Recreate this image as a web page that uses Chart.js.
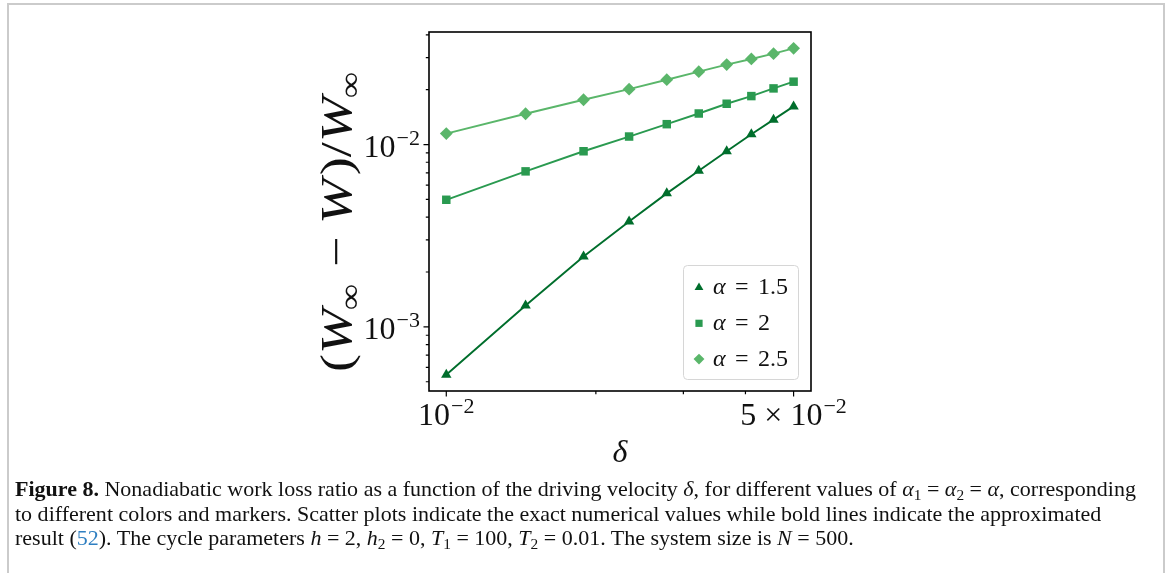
<!DOCTYPE html>
<html>
<head>
<meta charset="utf-8">
<script src="https://cdn.jsdelivr.net/npm/chart.js@4.4.1/dist/chart.umd.min.js"></script>
<style>
  html, body { margin: 0; padding: 0; background: #fff; }
  body { width: 1167px; height: 573px; position: relative; overflow: hidden; }
  #frame {
    position: absolute; left: 7px; top: 3px; width: 1154px; height: 600px;
    border: 2px solid #cbcbcb; border-bottom: none;
  }
  #plot { position: absolute; left: 0; top: 0; }
  .cap {
    position: absolute; left: 15px; white-space: nowrap;
    font: 21px "Liberation Serif", serif; line-height: 24px; color: #111;
    transform-origin: 0 50%;
  }
  .cap sub { font-size: 0.7em; vertical-align: -0.25em; line-height: 0; }
  .cap .ref { color: #2f7fc1; }
</style>
</head>
<body>
<div id="frame"></div>
<canvas id="plot" width="1167" height="573"></canvas>
<div class="cap" id="cap1" style="top:477px"><b>Figure 8.</b> Nonadiabatic work loss ratio as a function of the driving velocity <i>δ</i>, for different values of <i>α</i><sub>1</sub> = <i>α</i><sub>2</sub> = <i>α</i>, corresponding</div>
<div class="cap" id="cap2" style="top:502px">to different colors and markers. Scatter plots indicate the exact numerical values while bold lines indicate the approximated</div>
<div class="cap" id="cap3" style="top:526px">result (<span class="ref">52</span>). The cycle parameters <i>h</i> = 2, <i>h</i><sub>2</sub> = 0, <i>T</i><sub>1</sub> = 100, <i>T</i><sub>2</sub> = 0.01. The system size is <i>N</i> = 500.</div>
<script>
// driving velocity δ and loss ratio (W∞ − W)/W∞ for each α
const deltaValues = [0.01, 0.01444, 0.01889, 0.02333, 0.02778, 0.03222, 0.03667, 0.04111, 0.04556, 0.05];
const lossAlpha15 = [0.000547, 0.00131, 0.00243, 0.00378, 0.00540, 0.00719, 0.00919, 0.0114, 0.0137, 0.0162];
const lossAlpha2 = [0.00498, 0.00713, 0.00919, 0.01107, 0.01294, 0.01481, 0.01675, 0.01845, 0.02033, 0.02213];
const lossAlpha25 = [0.01149, 0.01476, 0.01762, 0.02014, 0.02269, 0.02512, 0.02746, 0.02949, 0.03154, 0.03373];
const seriesLabels = ["1.5", "2", "2.5"];

// log-axis ticks: [value, mantissa text, exponent text] for labelled ones
const xMajorTicks = [[0.01, "10", "−2"], [0.05, "5 × 10", "−2"]];
const xMinorTicks = [0.02, 0.03, 0.04];
const yMajorTicks = [[0.001, "10", "−3"], [0.01, "10", "−2"]];
const yMinorTicks = [0.0005, 0.0006, 0.0007, 0.0008, 0.0009,
  0.002, 0.003, 0.004, 0.005, 0.006, 0.007, 0.008, 0.009, 0.02, 0.03, 0.04];

const SERIF = '"Liberation Serif", "DejaVu Serif", serif';
const COLORS = ["#006e2c", "#2a9a50", "#5ab66a"];
const STYLES = [
  { pointStyle: "triangle", radius: 6 },
  { pointStyle: "rect", radius: 6 },
  { pointStyle: "rectRot", radius: 6.4 },
];

function pts(ys) {
  return deltaValues.map((x, i) => ({ x, y: ys[i] }));
}

function series(ys, i) {
  return {
    label: "α = " + seriesLabels[i],
    data: pts(ys),
    showLine: true,
    borderColor: COLORS[i],
    backgroundColor: COLORS[i],
    borderWidth: 1.9,
    pointStyle: STYLES[i].pointStyle,
    pointRadius: STYLES[i].radius,
    pointBorderWidth: 0,
    pointHoverRadius: STYLES[i].radius,
  };
}

// "10" followed by a raised exponent; align = "center" | "right"
function powLabel(ctx, mant, exp, x, base, align) {
  ctx.font = `32px ${SERIF}`;
  const wm = ctx.measureText(mant).width;
  ctx.font = `22px ${SERIF}`;
  const we = ctx.measureText(exp).width;
  const w = wm + we + 1;
  const x0 = align === "right" ? x - w : x - w / 2;
  ctx.textAlign = "left";
  ctx.textBaseline = "alphabetic";
  ctx.font = `32px ${SERIF}`;
  ctx.fillText(mant, x0, base);
  ctx.font = `22px ${SERIF}`;
  ctx.fillText(exp, x0 + wm + 1, base - 12);
}

// run of text pieces with their own font, spacing and baseline shift
function drawRun(ctx, pieces, x, base) {
  let cx = x;
  for (const p of pieces) {
    ctx.font = p.font;
    ctx.fillText(p.t, cx, base + (p.dy || 0));
    cx += ctx.measureText(p.t).width + (p.gap || 0);
  }
}
function runWidth(ctx, pieces) {
  let w = 0;
  for (const p of pieces) {
    ctx.font = p.font;
    w += ctx.measureText(p.t).width + (p.gap || 0);
  }
  return w;
}

const axisDecor = {
  id: "axisDecor",
  afterDraw(chart) {
    const { ctx, chartArea: a, scales: { x, y } } = chart;
    ctx.save();
    ctx.fillStyle = "#111";
    ctx.strokeStyle = "#000";

    // tick marks, pointing outwards
    ctx.lineWidth = 1.2;
    ctx.beginPath();
    xMajorTicks.forEach(([v]) => {
      const px = x.getPixelForValue(v);
      ctx.moveTo(px, a.bottom); ctx.lineTo(px, a.bottom + 5.5);
    });
    xMinorTicks.forEach((v) => {
      const px = x.getPixelForValue(v);
      ctx.moveTo(px, a.bottom); ctx.lineTo(px, a.bottom + 3.2);
    });
    yMajorTicks.forEach(([v]) => {
      const py = y.getPixelForValue(v);
      ctx.moveTo(a.left, py); ctx.lineTo(a.left - 5.5, py);
    });
    yMinorTicks.forEach((v) => {
      const py = y.getPixelForValue(v);
      ctx.moveTo(a.left, py); ctx.lineTo(a.left - 3.2, py);
    });
    ctx.stroke();

    // tick labels
    xMajorTicks.forEach(([v, m, e]) => powLabel(ctx, m, e, x.getPixelForValue(v), 425, "center"));
    yMajorTicks.forEach(([v, m, e]) => powLabel(ctx, m, e, a.left - 9, y.getPixelForValue(v) + 12.5, "right"));

    // x title
    ctx.font = `italic 32px ${SERIF}`;
    ctx.textAlign = "center";
    ctx.fillText("δ", (a.left + a.right) / 2, 462);

    // y title, rotated and stretched a little along the baseline
    const it = `italic 44px ${SERIF}`, up = `44px ${SERIF}`, sub = `30px ${SERIF}`;
    const title = [
      { t: "(", font: up }, { t: "W", font: it, gap: -1 }, { t: "∞", font: sub, dy: 9, gap: 14 },
      { t: "−", font: up, gap: 10 }, { t: "W", font: it, gap: 3 }, { t: ")", font: up }, { t: "/", font: up },
      { t: "W", font: it, gap: -1 }, { t: "∞", font: sub, dy: 9 },
    ];
    const tw = runWidth(ctx, title);
    ctx.save();
    ctx.translate(351, 222);
    ctx.rotate(-Math.PI / 2);
    ctx.scale(300 / tw, 1);
    ctx.textAlign = "left";
    drawRun(ctx, title, -tw / 2, 0);
    ctx.restore();

    // legend box
    const lx = 683.5, ly = 265.5, lw = 115, lh = 114;
    ctx.beginPath();
    ctx.roundRect(lx, ly, lw, lh, 4);
    ctx.fillStyle = "rgba(255,255,255,0.85)";
    ctx.fill();
    ctx.strokeStyle = "#d6d6d6";
    ctx.lineWidth = 1;
    ctx.stroke();
    chart.data.datasets.forEach((ds, i) => {
      const ry = 287.5 + i * 35.8;
      ctx.fillStyle = ds.backgroundColor;
      Chart.helpers.drawPoint(ctx, {
        pointStyle: ds.pointStyle, radius: ds.pointRadius * 0.85, rotation: 0, borderWidth: 0,
      }, 699, ry);
      ctx.fillStyle = "#111";
      ctx.textAlign = "left";
      ctx.font = `italic 24px ${SERIF}`;
      ctx.fillText("α", 713, ry + 6.5);
      ctx.font = `24px ${SERIF}`;
      ctx.fillText("=", 735, ry + 6.5);
      ctx.fillText(seriesLabels[i], 758, ry + 6.5);
    });

    // axes frame
    ctx.strokeStyle = "#000";
    ctx.lineWidth = 1.6;
    ctx.strokeRect(a.left, a.top, a.right - a.left, a.bottom - a.top);
    ctx.restore();
  },
};

new Chart(document.getElementById("plot"), {
  type: "scatter",
  data: {
    datasets: [series(lossAlpha15, 0), series(lossAlpha2, 1), series(lossAlpha25, 2)],
  },
  options: {
    responsive: false,
    animation: false,
    layout: { padding: { left: 429, right: 356, top: 32, bottom: 182 } },
    plugins: { legend: { display: false }, tooltip: { enabled: false } },
    scales: {
      x: { type: "logarithmic", min: 0.00923, max: 0.0542, display: false },
      y: { type: "logarithmic", min: 0.000445, max: 0.04145, display: false },
    },
  },
  plugins: [axisDecor],
});

// condense caption lines to the column width
(function fitCaption() {
  const lines = ["cap1", "cap2", "cap3"].map((id) => document.getElementById(id));
  const k = 1121 / lines[0].getBoundingClientRect().width;
  lines.forEach((el) => { el.style.transform = `scaleX(${k})`; });
})();
</script>
</body>
</html>
